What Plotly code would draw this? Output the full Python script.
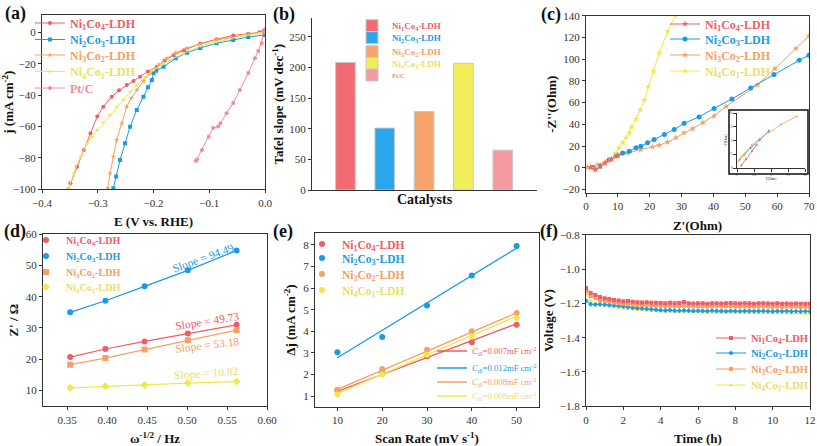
import plotly.graph_objects as go

W, H = 817, 446
FONT = "Liberation Serif, Times New Roman, serif"
RED = '#F25C66'; BLUE = '#1C9BE4'; ORANGE = '#F5A064'; YELLOW = '#EEE84C'; PINK = '#F28C96'
YTXT = '#E8E06A'

NAMES = ["Ni<sub>1</sub>Co<sub>4</sub>-LDH", "Ni<sub>2</sub>Co<sub>3</sub>-LDH",
         "Ni<sub>3</sub>Co<sub>2</sub>-LDH", "Ni<sub>4</sub>Co<sub>1</sub>-LDH", "Pt/C"]

# ---------------- (a) LSV ----------------
a_red_E = [0.0, -0.01, -0.03, -0.057, -0.087, -0.116, -0.146, -0.164, -0.18, -0.194, -0.21, -0.224, -0.236,
           -0.248, -0.262, -0.275, -0.29, -0.301, -0.313, -0.325, -0.337, -0.349, -0.353]
a_red_j = [0.8, 0, -1, -2, -4.5, -7.2, -11.5, -14.5, -18, -21.9, -25, -28.3, -31, -33.5, -37, -41, -47.4,
           -53.7, -64.3, -75, -85.6, -96.2, -100]
a_blue_E = [0.0, -0.03, -0.057, -0.087, -0.116, -0.14, -0.16, -0.182, -0.195, -0.2, -0.203, -0.21, -0.218,
            -0.23, -0.242, -0.251, -0.26, -0.267, -0.272]
a_blue_j = [-1.7, -3, -4.9, -7, -10, -13, -16.5, -21.9, -24.5, -26, -30.4, -35, -41, -49.5, -60.1, -70.7,
            -81.3, -91.9, -99.4]
a_orange_E = [0.0, -0.003, -0.03, -0.06, -0.087, -0.116, -0.14, -0.16, -0.176, -0.19, -0.206, -0.218, -0.23,
              -0.24, -0.248, -0.257, -0.266, -0.272, -0.278, -0.282]
a_orange_j = [0.3, 0, -1.5, -3.5, -5, -7.5, -10, -13, -16.6, -20.5, -26.1, -31, -36.7, -42, -47.4, -58,
              -68.6, -79.2, -89.8, -99.4]
a_yellow_E = [0.0, -0.01, -0.04, -0.087, -0.116, -0.146, -0.17, -0.185, -0.2, -0.215, -0.23, -0.242, -0.254,
              -0.266, -0.278, -0.29, -0.301, -0.31, -0.319, -0.331, -0.343, -0.352]
a_yellow_j = [0.5, -0.6, -2.2, -6, -8.8, -13.4, -17.5, -20.5, -24, -28.5, -33.5, -38, -43, -47.5, -52.7,
              -57.5, -62.2, -66.5, -70.7, -79.2, -89.8, -99.4]
a_pt_E = [0.0, -0.003, -0.006, -0.012, -0.018, -0.03, -0.045, -0.057, -0.069, -0.08, -0.084, -0.093, -0.101,
          -0.113, -0.122, -0.124]
a_pt_j = [2, 1, -7, -12, -16.6, -26, -36.7, -45, -51.6, -58, -60, -61, -66.5, -75, -81, -82]

# ---------------- (b) Tafel ----------------
b_values = [208, 101, 128, 206.5, 65]
b_colors = ['#F26B73', '#2AA6EA', '#F5A46C', '#F2EE5A', '#F39AA0']

# ---------------- (c) Nyquist ----------------
c_red_x = [1.5, 3.0, 4.5, 6, 8, 10]
c_red_y = [0.5, -1.8, 1.5, 4.5, 8, 11.5]
c_blue_x = [2.0, 4.2, 7.3, 9.4, 11.5, 13.6, 15.7, 17.2, 19.3, 21.4, 24.6, 27.7, 30.8, 35.5, 40.2, 45.8,
            51.7, 59.0, 66.9, 70]
c_blue_y = [0.2, 1.2, 7.4, 11.5, 13.6, 15.2, 18.3, 19.8, 22.9, 26.0, 30.7, 35.3, 40.9, 46.8, 54.6, 63.3,
            73.5, 85.9, 98.9, 103.6]
c_orange_x = [0.5, 3.7, 6.8, 9.9, 13.1, 17.2, 20.9, 23.0, 25.6, 28.2, 30.8, 33.5, 36.7, 40.2, 44.0, 53.8,
              59.3, 65.9, 70]
c_orange_y = [0.6, 2.8, 6.5, 10.5, 13.6, 16.7, 19.2, 20.8, 23.6, 27.6, 32.2, 36.0, 41.6, 47.8, 56.4, 76.3,
              91.2, 109.8, 121.5]
c_yellow_x = [1.6, 3.0, 3.7, 5.7, 7.8, 9.4, 10.4, 11.5, 12.5, 13.6, 14.3, 15.7, 17.0, 18.3, 19.6, 21.2,
              23.0, 25.6, 28.2]
c_yellow_y = [-0.3, -1.5, 1.2, 4.3, 7.4, 13.6, 18.3, 22.9, 27.6, 32.2, 37.5, 44.7, 53.0, 62.3, 74.7, 89.0,
              105.7, 125.3, 140.8]
# inset (read in inset units)
ci_red_x = [0.63, 1.3, 2.2, 2.88]; ci_red_y = [0.46, 1.6, 3.05, 4.2]
ci_blue_x = [0.4, 1.08, 1.98, 3.33, 4.68]; ci_blue_y = [1.6, 2.47, 3.62, 5.06, 6.78]
ci_orange_x = [0.27, 1.08, 2.2, 3.33, 4.68, 6.49, 8.74]; ci_orange_y = [1.32, 2.47, 4.2, 5.34, 6.5, 7.93, 9.37]
ci_yellow_x = [0.0, 0.63, 1.53]; ci_yellow_y = [1.03, 2.18, 3.33]

# ---------------- (d) Warburg ----------------
d_x = [0.354, 0.398, 0.447, 0.501, 0.562]
d_red = [20.7, 23.3, 25.7, 28.2, 31.0]
d_blue = [35.0, 38.7, 43.3, 48.4, 54.7]
d_orange = [18.3, 20.4, 23.1, 26.1, 29.3]
d_yellow = [10.9, 11.4, 11.8, 12.4, 12.9]
d_slopes = ["94.49", "49.73", "53.18", "10.82"]

# ---------------- (e) Cdl ----------------
e_x = [10, 20, 30, 40, 50]
e_red = [1.26, 2.08, 2.85, 3.49, 4.31]
e_blue = [3.03, 3.74, 5.20, 6.58, 7.95]
e_orange = [1.30, 2.26, 3.15, 4.00, 4.85]
e_yellow = [1.08, 2.00, 2.92, 3.77, 4.62]
e_fit_x = [10, 50]
e_red_fit = [1.22, 4.35]
e_blue_fit = [2.78, 7.85]
e_orange_fit = [1.32, 4.85]
e_yellow_fit = [1.12, 4.70]
e_cdl = ["0.007", "0.012", "0.008", "0.008"]

# ---------------- (f) stability ----------------
f_t = [0, 0.25, 0.5, 0.75, 1, 1.25, 1.5, 1.75, 2, 2.25, 2.5, 2.75, 3, 3.25, 3.5, 3.75, 4, 4.25, 4.5, 4.75,
       5, 5.25, 5.5, 5.75, 6, 6.25, 6.5, 6.75, 7, 7.25, 7.5, 7.75, 8, 8.25, 8.5, 8.75, 9, 9.25, 9.5, 9.75,
       10, 10.25, 10.5, 10.75, 11, 11.25, 11.5, 11.75, 12]
f_red = [-1.110, -1.140, -1.152, -1.163, -1.170, -1.174, -1.180, -1.183, -1.188, -1.187, -1.191, -1.193,
         -1.195, -1.194, -1.197, -1.196, -1.198, -1.199, -1.197, -1.200, -1.198, -1.192, -1.199, -1.201,
         -1.199, -1.200, -1.202, -1.200, -1.199, -1.201, -1.200, -1.198, -1.200, -1.201, -1.199, -1.200,
         -1.202, -1.200, -1.199, -1.201, -1.202, -1.200, -1.203, -1.201, -1.202, -1.201, -1.203, -1.202, -1.203]
f_orange = [-1.130, -1.158, -1.170, -1.180, -1.186, -1.190, -1.195, -1.199, -1.203, -1.205, -1.207, -1.209,
            -1.210, -1.211, -1.213, -1.212, -1.214, -1.215, -1.214, -1.216, -1.215, -1.214, -1.216, -1.217,
            -1.216, -1.217, -1.218, -1.217, -1.216, -1.218, -1.217, -1.216, -1.218, -1.219, -1.217, -1.218,
            -1.219, -1.218, -1.217, -1.219, -1.220, -1.218, -1.220, -1.219, -1.220, -1.219, -1.221, -1.220, -1.221]
f_blue = [-1.185, -1.205, -1.207, -1.206, -1.208, -1.210, -1.212, -1.215, -1.218, -1.222, -1.225, -1.228,
          -1.230, -1.232, -1.235, -1.237, -1.240, -1.241, -1.239, -1.242, -1.243, -1.241, -1.243, -1.244,
          -1.243, -1.244, -1.245, -1.243, -1.244, -1.245, -1.246, -1.244, -1.245, -1.246, -1.244, -1.245,
          -1.246, -1.245, -1.244, -1.246, -1.247, -1.245, -1.246, -1.245, -1.247, -1.246, -1.247, -1.246, -1.247]
f_yellow = [-1.150, -1.185, -1.198, -1.206, -1.212, -1.217, -1.221, -1.225, -1.230, -1.232, -1.235, -1.237,
            -1.240, -1.241, -1.243, -1.244, -1.246, -1.247, -1.248, -1.249, -1.250, -1.250, -1.251, -1.252,
            -1.251, -1.252, -1.253, -1.252, -1.253, -1.254, -1.253, -1.254, -1.255, -1.254, -1.255, -1.256,
            -1.255, -1.256, -1.257, -1.256, -1.257, -1.258, -1.257, -1.258, -1.259, -1.258, -1.259, -1.260, -1.260]

# ================= helpers =================
fig = go.Figure()
legends = {}


def leg(tx, ty, color, size):
    key = "legend" if not legends else f"legend{len(legends) + 1}"
    legends[key] = dict(x=(tx - 40) / W, y=1 - ty / H, xanchor='left', yanchor='middle',
                        bgcolor='rgba(0,0,0,0)', borderwidth=0, tracegroupgap=0,
                        font=dict(family=FONT, size=size, color=color))
    return key


def bname(s):
    return f"<b>{s}</b>"


def dom_x(p0, p1):
    return [p0 / W, p1 / W]


def dom_y(top, bottom):
    return [1 - bottom / H, 1 - top / H]


def axis(domain, anchor, rng, title, dtick=None, tick0=None, fmt=None, standoff=6, tsize=13,
         mirror=True, showticklabels=True, ticks='outside', tfs=11):
    d = dict(domain=domain, anchor=anchor, range=rng, showline=True, linecolor='#333', linewidth=1,
             mirror=mirror, ticks=ticks, ticklen=3, tickcolor='#333', showgrid=False, zeroline=False,
             showticklabels=showticklabels, automargin=False,
             tickfont=dict(family=FONT, size=tfs, color='#333'),
             title=dict(text=title, font=dict(family=FONT, size=tsize, color='#111'), standoff=standoff))
    if dtick is not None:
        d['dtick'] = dtick
    if tick0 is not None:
        d['tick0'] = tick0
    if fmt:
        d['tickformat'] = fmt
    return d


# ================= (a) =================
a_sets = [(a_red_E, a_red_j, RED, 'circle', RED), (a_blue_E, a_blue_j, BLUE, 'square', BLUE),
          (a_orange_E, a_orange_j, ORANGE, 'star', ORANGE), (a_yellow_E, a_yellow_j, YELLOW, 'triangle-down', YTXT),
          (a_pt_E, a_pt_j, PINK, 'circle', PINK)]
a_rows = [23, 39.5, 55, 71.5, 88]
for i, (xs, ys, c, sym, tc) in enumerate(a_sets):
    k = leg(70, a_rows[i], tc, 12)
    fig.add_trace(go.Scatter(x=xs, y=ys, mode='lines+markers', name=bname(NAMES[i]),
                             line=dict(color=c, width=1), marker=dict(symbol=sym, size=4, color=c),
                             xaxis='x', yaxis='y', legend=k))

# ================= (b) =================
b_rows = [25.7, 37.7, 51.7, 63.3, 75]
b_tc = [RED, BLUE, ORANGE, YTXT, PINK]
for i, v in enumerate(b_values):
    k = leg(392, b_rows[i], b_tc[i], 9 if i < 4 else 6.5)
    fig.add_trace(go.Bar(x=[i], y=[v], width=0.5, name=bname(NAMES[i]),
                         marker=dict(color=b_colors[i], line=dict(color='#c8c8c8', width=1)),
                         xaxis='x2', yaxis='y2', legend=k))

# ================= (c) =================
c_sets = [(c_red_x, c_red_y, RED, 'star', RED), (c_blue_x, c_blue_y, BLUE, 'circle', BLUE),
          (c_orange_x, c_orange_y, ORANGE, 'star', ORANGE), (c_yellow_x, c_yellow_y, YELLOW, 'star', YTXT)]
c_rows = [24, 39, 55, 71]
for i in [2, 1, 3, 0]:
    xs, ys, c, sym, tc = c_sets[i]
    k = leg(705, c_rows[i], tc, 12)
    fig.add_trace(go.Scatter(x=xs, y=ys, mode='lines+markers', name=bname(NAMES[i]),
                             line=dict(color=c, width=1), marker=dict(symbol=sym, size=5, color=c),
                             xaxis='x3', yaxis='y3', legend=k))
ci_sets = [(ci_red_x, ci_red_y, RED), (ci_blue_x, ci_blue_y, BLUE), (ci_orange_x, ci_orange_y, ORANGE),
           (ci_yellow_x, ci_yellow_y, YELLOW)]
for xs, ys, c in ci_sets:
    fig.add_trace(go.Scatter(x=xs, y=ys, mode='lines+markers', line=dict(color=c, width=0.8),
                             marker=dict(size=2, color=c), showlegend=False, xaxis='x7', yaxis='y7'))

# ================= (d) =================
d_sets = [(d_red, RED, RED, 'circle'), (d_blue, BLUE, BLUE, 'circle'), (d_orange, ORANGE, ORANGE, 'square'),
          (d_yellow, YELLOW, YTXT, 'diamond')]
d_rows = [240, 256, 272, 287]
for i, (ys, c, tc, sym) in enumerate(d_sets):
    fig.add_trace(go.Scatter(x=d_x, y=ys, mode='lines', line=dict(color=c, width=1.2), showlegend=False,
                             xaxis='x4', yaxis='y4'))
    k = leg(66, d_rows[i], tc, 10)
    fig.add_trace(go.Scatter(x=d_x, y=ys, mode='markers', name=bname(NAMES[i]),
                             marker=dict(symbol=sym, size=6, color=c), xaxis='x4', yaxis='y4', legend=k))

# ================= (e) =================
e_sets = [(e_red, e_red_fit, RED, RED), (e_blue, e_blue_fit, BLUE, BLUE), (e_orange, e_orange_fit, ORANGE, ORANGE),
          (e_yellow, e_yellow_fit, YELLOW, YTXT)]
e_rows = [244, 258, 274, 290]
e_rows2 = [351, 368, 382, 396]
for i, (ys, fit, c, tc) in enumerate(e_sets):
    k = leg(342, e_rows[i], tc, 11.5)
    fig.add_trace(go.Scatter(x=e_x, y=ys, mode='markers', name=bname(NAMES[i]),
                             marker=dict(symbol='circle', size=6, color=c), xaxis='x5', yaxis='y5', legend=k))
    k2 = leg(472, e_rows2[i], tc, 8.7)
    fig.add_trace(go.Scatter(x=e_fit_x, y=fit, mode='lines', line=dict(color=c, width=1.3),
                             name=f"<i>C</i><sub>dl</sub>={e_cdl[i]}mF cm<sup>-2</sup>",
                             xaxis='x5', yaxis='y5', legend=k2))

# ================= (f) =================
f_sets = [(f_red, RED, RED, 'square'), (f_blue, BLUE, BLUE, 'diamond'), (f_orange, ORANGE, ORANGE, 'square'),
          (f_yellow, YELLOW, YTXT, 'triangle-up')]
f_rows = [338, 353, 369, 385]
for i in [3, 1, 2, 0]:
    ys, c, tc, sym = f_sets[i]
    k = leg(751, f_rows[i], tc, 10.5)
    fig.add_trace(go.Scatter(x=f_t, y=ys, mode='lines+markers', name=bname(NAMES[i]),
                             line=dict(color=c, width=1), marker=dict(symbol=sym, size=4, color=c),
                             xaxis='x6', yaxis='y6', legend=k))

# ================= layout =================
layout = dict(
    width=W, height=H, margin=dict(l=0, r=0, t=0, b=0), plot_bgcolor='white', paper_bgcolor='white',
    barmode='overlay', font=dict(family=FONT, color='#222'),
    xaxis=axis(dom_x(42, 265), 'y', [-0.4, 0.0], '<b>E (V vs. RHE)</b>', dtick=0.1, fmt='.1f', standoff=9),
    yaxis=axis(dom_y(15, 189.3), 'x', [-100, 11], '<b>j (mA cm<sup>-2</sup>)</b>', dtick=20, tick0=0, standoff=3),
    xaxis2=axis(dom_x(312, 537), 'y2', [-0.85, 4.87], '<b>Catalysts</b>', showticklabels=False, ticks='',
                mirror=False, standoff=4, tsize=14),
    yaxis2=axis(dom_y(18.3, 190), 'x2', [0, 280], '<b>Tafel slope (mV dec<sup>-1</sup>)</b>', dtick=50,
                mirror=False, standoff=2),
    xaxis3=axis(dom_x(586, 809), 'y3', [0, 70], "<b>Z'(Ohm)</b>", dtick=10, standoff=9),
    yaxis3=axis(dom_y(15.7, 192.7), 'x3', [-23, 140], "<b>-Z''(Ohm)</b>", dtick=20, tick0=0, standoff=3),
    xaxis4=axis(dom_x(43, 267), 'y4', [0.32, 0.60], '<b>ω<sup>-1/2</sup> / Hz</b>', dtick=0.05, tick0=0.35,
                fmt='.2f', standoff=9),
    yaxis4=axis(dom_y(234, 406.3), 'x4', [5, 60], "<b>Z' / Ω</b>", dtick=10, tick0=0, standoff=4),
    xaxis5=axis(dom_x(315, 539), 'y5', [5, 55], '<b>Scan Rate (mV s<sup>-1</sup>)</b>', dtick=10, tick0=0,
                standoff=9),
    yaxis5=axis(dom_y(233, 407), 'x5', [0.5, 8.55], '<b>Δj (mA cm<sup>-2</sup>)</b>', dtick=1, tick0=0,
                standoff=4),
    xaxis6=axis(dom_x(586, 810), 'y6', [0, 12], '<b>Time (h)</b>', dtick=2, standoff=9),
    yaxis6=axis(dom_y(234.7, 406.3), 'x6', [-1.8, -0.8], '<b>Voltage (V)</b>', dtick=0.2, tick0=-1.8,
                fmt='.1f', standoff=3),
    xaxis7=axis(dom_x(737, 805), 'y7', [0, 10], "Z'(Ohm)", dtick=2.5, tfs=3, tsize=3, standoff=1, mirror=False),
    yaxis7=axis(dom_y(113, 168), 'x7', [0, 10], "-Z''(Ohm)", dtick=2.5, tfs=3, tsize=3, standoff=1,
                mirror=False),
    showlegend=True,
)
layout.update(legends)

annotations = []
for lab, px, py in [('(a)', 3, 14), ('(b)', 271, 15), ('(c)', 539, 15), ('(d)', 2, 231), ('(e)', 271, 231),
                    ('(f)', 538, 231)]:
    annotations.append(dict(text=f'<b>{lab}</b>', x=px / W, y=1 - py / H, xref='paper', yref='paper',
                            xanchor='left', yanchor='middle', showarrow=False,
                            font=dict(family=FONT, size=18, color='#111')))
slope_pos = [(203, 258, -20, BLUE), (207, 321, -9, RED), (207, 345, -7, ORANGE), (206, 373, -4, YTXT)]
for s, (px, py, ang, c) in zip(d_slopes, slope_pos):
    annotations.append(dict(text=f'Slope = {s}', x=px / W, y=1 - py / H, xref='paper', yref='paper',
                            xanchor='center', yanchor='middle', showarrow=False, textangle=ang,
                            font=dict(family=FONT, size=11.5, color=c)))
layout['annotations'] = annotations
layout['shapes'] = [dict(type='rect', xref='paper', yref='paper', x0=729 / W, x1=808 / W, y0=1 - 174 / H,
                         y1=1 - 110 / H, line=dict(color='#111', width=1.5), fillcolor='rgba(0,0,0,0)')]

fig.update_layout(**layout)
fig.write_html("out.html", config={'displayModeBar': False},
               post_script="document.body.style.margin='0px';document.body.style.overflow='hidden';")
